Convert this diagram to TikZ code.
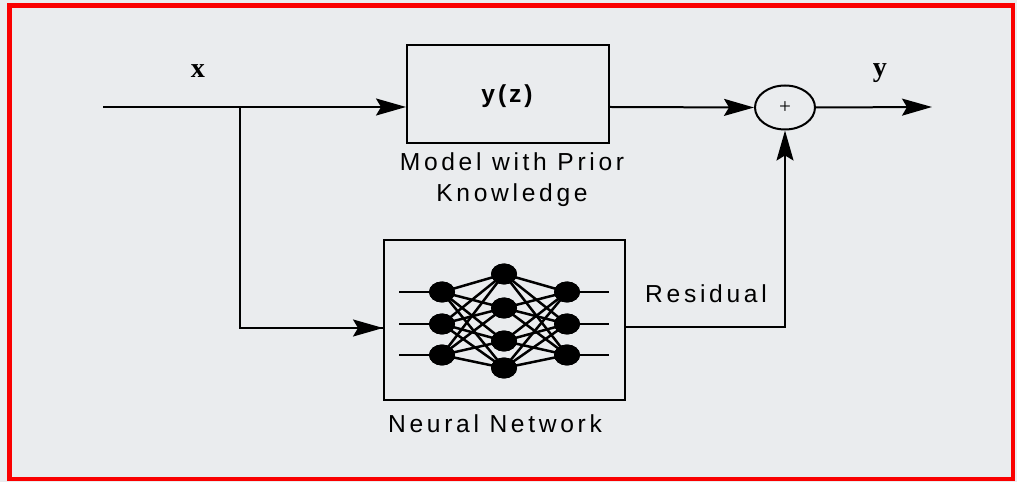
\documentclass[tikz,border=0pt]{standalone}
\usepackage{fontspec}
\setmainfont{Liberation Serif}
\setsansfont{Liberation Sans}
\newfontfamily\lblfont[LetterSpace=15]{Liberation Sans}
\newfontfamily\boxfont[LetterSpace=12]{Liberation Sans}
\usetikzlibrary{arrows.meta,shapes.geometric}
\definecolor{paper}{RGB}{234,236,238}
\definecolor{frame}{RGB}{250,0,0}
\begin{document}
\begin{tikzpicture}[x=0.02cm,y=-0.02cm,
  wire/.style={line width=0.04cm,black},
  link/.style={line width=0.05cm,black},
  flow/.style={wire,-{Stealth[length=0.6cm,width=0.34cm,inset=0.1cm]}},
  block/.style={draw,line width=0.04cm,rectangle,inner sep=0pt},
  neuron/.style={ellipse,fill=black,minimum width=0.52cm,minimum height=0.42cm,inner sep=0pt},
  caption/.style={font={\lblfont\fontsize{14}{16}\selectfont},anchor=base,inner sep=0pt},
  signal/.style={font={\bfseries\fontsize{16}{18}\selectfont},anchor=base,inner sep=0pt}]
% canvas and frame
\fill[paper] (0,0) rectangle (1017,482);
\useasboundingbox (0,0) rectangle (1017,482);
\draw[frame,line width=0.09cm] (9.5,5.5) rectangle (1013,479);

% blocks
\node[block,minimum width=4.04cm,minimum height=1.96cm] (model) at (508,94) {};
\node[font={\boxfont\bfseries\fontsize{14}{16}\selectfont},anchor=base,inner sep=0pt] (yz) at (507,102.5) {y(z)};
\node[block,minimum width=4.82cm,minimum height=3.2cm] (nn) at (504.5,320) {};
\node[ellipse,draw,line width=0.04cm,minimum width=1.2cm,minimum height=0.88cm,inner sep=0pt] (sum) at (785,107.5) {};
\node[font=\fontsize{12}{14}\selectfont,inner sep=0pt] (plus) at (785,107.5) {+};

% captions
\node[caption] (cap1) at (512,171) {Model with Prior};
\node[caption] (cap2) at (512,201.5) {Knowledge};
\node[caption] (cap3) at (495,433) {Neural Network};
\node[caption] (res) at (706,303) {Residual};
\node[signal] (xl) at (198,78) {x};
\node[signal] (yl) at (880,77) {y};

% signal paths
\coordinate (in) at (103,107);
\coordinate (split) at (240,107);
\coordinate (out) at (932,107);
\coordinate (nnin) at (nn.west |- 0,328);
\coordinate (nnout) at (nn.east |- 0,327);
\draw[flow] (in) -- (model.west |- in);
\draw[wire] (split) |- (nnin) coordinate[pos=0.5] (bend);
\draw[flow] (bend) -- (nnin);
\draw[flow] (model.east |- in) -- (sum.west);
\draw[flow] (sum.east) -- (out);
\draw[flow] (nnout) -| (sum.south);

% network icon
\foreach \i/\yy in {1/292,2/324,3/355}{
  \node[neuron] (a\i) at (442,\yy) {};
  \node[neuron] (c\i) at (567,\yy) {};
  \coordinate (ai\i) at (399,\yy);
  \coordinate (co\i) at (609,\yy);
}
\foreach \j/\yy in {1/274,2/308,3/341,4/368}{
  \node[neuron] (b\j) at (504,\yy) {};
}
\foreach \i in {1,2,3}{
  \draw[link] (ai\i) -- (a\i);
  \draw[link] (c\i) -- (co\i);
  \foreach \j in {1,2,3,4}{
    \draw[link] (a\i.center) -- (b\j.center);
    \draw[link] (b\j.center) -- (c\i.center);
  }
}
\foreach \i in {1,2,3}{ \node[neuron] at (a\i) {}; \node[neuron] at (c\i) {}; }
\foreach \j in {1,2,3,4}{ \node[neuron] at (b\j) {}; }
\end{tikzpicture}
\end{document}
